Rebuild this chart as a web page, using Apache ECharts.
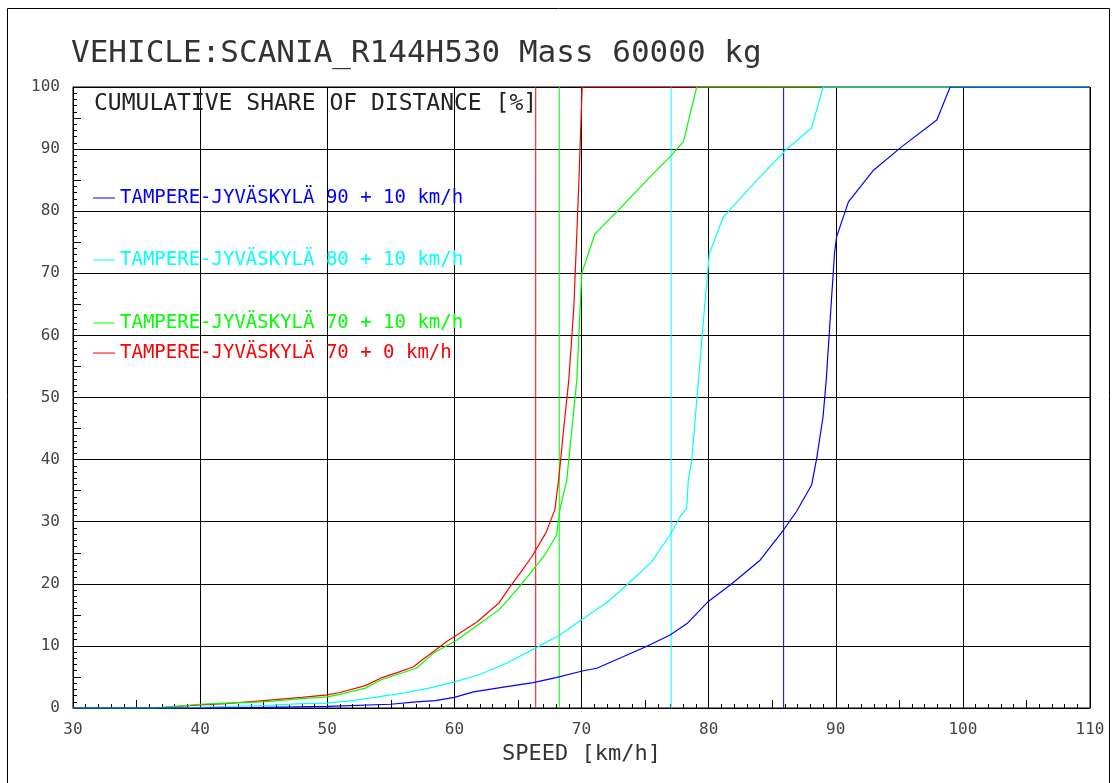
<!DOCTYPE html>
<html>
<head>
<meta charset="utf-8">
<script src="https://cdn.jsdelivr.net/npm/echarts@6/dist/echarts.min.js"></script>
<style>
  html, body { margin: 0; padding: 0; background: #fff; }
  #chart { width: 1114px; height: 783px; }
</style>
</head>
<body>
<div id="chart"></div>
<script>
// Texts
const titleText = 'VEHICLE:SCANIA_R144H530 Mass 60000 kg';
const yTitle = 'CUMULATIVE SHARE OF DISTANCE [%]';
const xTitle = 'SPEED [km/h]';

// Axis ticks
const xTicks = [30, 40, 50, 60, 70, 80, 90, 100, 110];
const yTicks = [0, 10, 20, 30, 40, 50, 60, 70, 80, 90, 100];

// Series names (drawing order: red, green, cyan, blue)
const seriesNames = [
  'TAMPERE-JYVÄSKYLÄ 70 + 0 km/h',
  'TAMPERE-JYVÄSKYLÄ 70 + 10 km/h',
  'TAMPERE-JYVÄSKYLÄ 80 + 10 km/h',
  'TAMPERE-JYVÄSKYLÄ 90 + 10 km/h'
];
const seriesColors = ['#ff0000', '#00ff00', '#00ffff', '#0000ff'];

// Cumulative share of distance [%] against speed [km/h]
const speedRed  = [30, 36.4, 40, 42, 45, 48, 50, 51, 53, 54.2, 55.5, 56.8, 57.3, 58.5, 59.4, 60.2, 61.8, 63.5, 64.3, 65.2, 66.1, 67.2, 67.9, 68.2, 68.6, 69.0, 69.4, 69.8, 70.05, 110];
const shareRed  = [0, 0, 0.5, 0.7, 1.2, 1.7, 2.1, 2.5, 3.6, 4.8, 5.7, 6.65, 7.5, 9.3, 10.7, 11.75, 13.9, 16.9, 19.3, 21.8, 24.4, 28.2, 31.9, 36.7, 45.0, 52.8, 64.6, 85.0, 100, 100];

const speedGreen = [30, 36.5, 40, 42, 45, 48, 50, 51, 53, 54.2, 55.5, 57.0, 58.35, 60.2, 62.0, 63.5, 64.3, 65.3, 66.35, 67.1, 68.05, 68.3, 68.84, 69.63, 70.02, 71.07, 72.77, 75.66, 76.97, 78.02, 79.06, 110];
const shareGreen = [0, 0, 0.6, 0.8, 1.0, 1.5, 1.8, 2.2, 3.2, 4.5, 5.4, 6.4, 8.8, 10.95, 13.6, 15.8, 17.6, 20.0, 22.7, 24.6, 27.9, 31.9, 36.7, 52.8, 70.0, 76.4, 79.9, 86.1, 88.8, 91.2, 100, 100];

const speedCyan = [30, 38.7, 41, 45, 48, 50, 52, 55.7, 58, 60, 62, 64.1, 66.35, 68.3, 70, 72, 73.56, 75.5, 76.97, 77.76, 78.28, 78.4, 78.67, 79.2, 79.7, 80.06, 81.16, 83.8, 86.1, 88.1, 89.0, 110];
const shareCyan = [0, 0, 0.2, 0.4, 0.7, 0.8, 1.2, 2.3, 3.2, 4.2, 5.4, 7.2, 9.6, 11.75, 14.2, 17.0, 19.8, 23.5, 27.9, 30.8, 32.2, 36.7, 39.9, 52.8, 65.0, 73.2, 79.1, 85.0, 89.9, 93.4, 100, 100];

const speedBlue = [30, 41.5, 45, 50, 55, 57, 58.5, 60, 61.5, 64, 66.2, 68, 70.15, 71.2, 73, 75.1, 76.97, 78.3, 80, 81.7, 84.05, 85.9, 86.9, 88.1, 88.5, 89.0, 89.25, 89.9, 90.07, 91.0, 92.97, 95.2, 97.95, 99.0, 110];
const shareBlue = [0, 0, 0.1, 0.25, 0.6, 1.0, 1.2, 1.7, 2.6, 3.4, 4.1, 4.9, 6.0, 6.4, 8.0, 9.9, 11.75, 13.6, 17.2, 19.8, 23.8, 28.7, 31.6, 35.9, 40.2, 46.9, 52.8, 73.2, 75.9, 81.5, 86.6, 90.4, 94.7, 100, 100];

// Reference speed of each series (vertical lines across the full share range)
const refSpeeds = [66.4, 68.25, 77.05, 85.9];

const speeds = [speedRed, speedGreen, speedCyan, speedBlue];
const shares = [shareRed, shareGreen, shareCyan, shareBlue];

const FONT = 'DejaVu Sans Mono';
const legendTops = [343.5, 313.5, 250.5, 188.5];

const chart = echarts.init(document.getElementById('chart'), null, { renderer: 'canvas' });

const xMin = xTicks[0], xMax = xTicks[xTicks.length - 1], xStep = xTicks[1] - xTicks[0];
const yMin = yTicks[0], yMax = yTicks[yTicks.length - 1], yStep = yTicks[1] - yTicks[0];

const curveSeries = seriesNames.map((name, i) => ({
  name: name,
  type: 'line',
  data: speeds[i].map((s, k) => [s, shares[i][k]]),
  symbol: 'none',
  showSymbol: false,
  lineStyle: { color: seriesColors[i], width: 1.2 },
  itemStyle: { color: seriesColors[i] },
  z: 5 + i
}));

const refSeries = refSpeeds.map((s, i) => ({
  name: 'ref ' + i,
  type: 'line',
  data: [[s, yMin], [s, yMax]],
  symbol: 'none',
  showSymbol: false,
  silent: true,
  lineStyle: { color: seriesColors[i], width: 1 },
  itemStyle: { color: seriesColors[i] },
  z: 4
}));

const option = {
  animation: false,
  backgroundColor: '#ffffff',
  title: [
    {
      text: titleText,
      left: 71,
      top: 38,
      padding: 0,
      textStyle: { fontFamily: FONT, fontSize: 31, fontWeight: 'normal', color: '#333' }
    },
    {
      text: yTitle,
      left: 94,
      top: 93,
      padding: 0,
      textStyle: { fontFamily: FONT, fontSize: 23, fontWeight: 'normal', color: '#222' }
    }
  ],
  legend: seriesNames.map((name, i) => ({
    data: [name],
    left: 93,
    top: legendTops[i],
    padding: 0,
    icon: 'rect',
    itemWidth: 22,
    itemHeight: 1,
    selectedMode: false,
    itemStyle: { color: seriesColors[i] },
    textStyle: { fontFamily: FONT, fontSize: 19, color: seriesColors[i] }
  })),
  grid: {
    left: 73, right: 24, top: 87, bottom: 75,
    show: true, borderColor: '#000', borderWidth: 1, backgroundColor: 'transparent'
  },
  xAxis: [
    {
      type: 'value', min: xMin, max: xMax, interval: xStep,
      name: xTitle, nameLocation: 'middle', nameGap: 35,
      nameTextStyle: { fontFamily: FONT, fontSize: 22, color: '#333' },
      axisLine: { show: true, lineStyle: { color: '#000' } },
      axisTick: { show: true, inside: true, length: 8, lineStyle: { color: '#000' } },
      minorTick: { show: true, splitNumber: 10, length: 4, lineStyle: { color: '#000' } },
      axisLabel: { fontFamily: FONT, fontSize: 16, color: '#444', margin: 14 },
      splitLine: { show: true, lineStyle: { color: '#000', width: 1 } }
    },
    {
      type: 'value', min: xMin, max: xMax, interval: xStep / 2, position: 'bottom',
      axisLine: { show: false },
      axisTick: { show: true, inside: true, length: 8, lineStyle: { color: '#000' } },
      axisLabel: { show: false },
      splitLine: { show: false }
    }
  ],
  yAxis: [
    {
      type: 'value', min: yMin, max: yMax, interval: yStep,
      axisLine: { show: true, lineStyle: { color: '#000' } },
      axisTick: { show: true, inside: true, length: 8, lineStyle: { color: '#000' } },
      minorTick: { show: true, splitNumber: 10, length: 4, lineStyle: { color: '#000' } },
      axisLabel: { fontFamily: FONT, fontSize: 16, color: '#444', margin: 13 },
      splitLine: { show: true, lineStyle: { color: '#000', width: 1 } }
    },
    {
      type: 'value', min: yMin, max: yMax, interval: yStep / 2, position: 'left',
      axisLine: { show: false },
      axisTick: { show: true, inside: true, length: 8, lineStyle: { color: '#000' } },
      axisLabel: { show: false },
      splitLine: { show: false }
    }
  ],
  graphic: [
    {
      type: 'rect',
      shape: { x: 7.5, y: 8.5, width: 1102, height: 800 },
      style: { fill: 'none', stroke: '#000', lineWidth: 1 },
      silent: true
    }
  ],
  series: refSeries.concat(curveSeries)
};

chart.setOption(option);
</script>
</body>
</html>
